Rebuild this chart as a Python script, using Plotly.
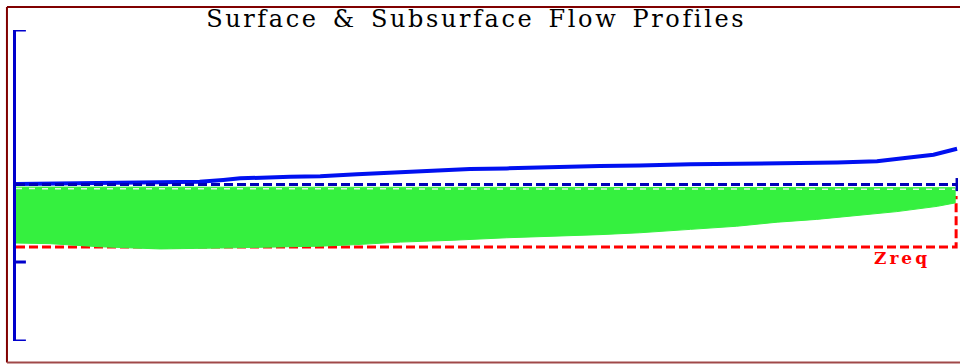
import plotly.graph_objects as go

# distance along the field (0-100) and elevation (arbitrary units, 0-100)
surface_x = [0, 15.3, 19.5, 22.0, 23.8, 29.1, 32.3, 36.2, 40.5, 42.9, 45.8, 48.2,
             52.1, 57.0, 62.0, 66.2, 71.6, 87.2, 91.4, 94.6, 97.4, 99.9]
surface_y = [50.5, 50.9, 51.2, 51.8, 52.3, 52.8, 53.0, 53.6, 54.2, 54.7, 55.0, 55.3,
             55.5, 56.0, 56.3, 56.4, 56.8, 57.4, 57.8, 58.9, 59.9, 61.8]

subsurf_x = [0, 99.9]
subsurf_y = [50.3, 50.3]
subsurf_end_y = [52.4, 48.2]

wet_top_x = [0, 99.7]
wet_top_y = [49.5, 49.3]
wet_bot_x = [0, 3.6, 8.9, 15.3, 21.7, 32.3, 36.2, 40.8, 46.4, 52.1, 57.0, 62.0,
             66.2, 71.6, 76.5, 80.8, 85.0, 89.3, 93.5, 97.8, 99.7]
wet_bot_y = [31.5, 31.3, 30.3, 29.6, 29.9, 30.5, 31.0, 31.8, 32.4, 33.2, 33.7, 34.2,
             34.8, 35.9, 36.9, 38.2, 39.1, 40.4, 41.6, 43.3, 44.4]

zreq_x = [0, 99.8, 99.8]
zreq_y = [30.2, 30.2, 46.6]

axis_ticks = [0, 25.4, 100]

fig = go.Figure()

fig.add_trace(go.Scatter(x=zreq_x, y=zreq_y, mode="lines",
                         line=dict(color="#FF0000", width=3, dash="9px,4px")))

fig.add_trace(go.Scatter(x=wet_top_x + wet_bot_x[::-1], y=wet_top_y + wet_bot_y[::-1],
                         mode="lines", fill="toself", fillcolor="#35F03F",
                         line=dict(color="#35F03F", width=1)))

fig.add_trace(go.Scatter(x=wet_top_x, y=[v - 0.5 for v in wet_top_y], mode="lines",
                         line=dict(color="#D8FFD8", width=1.5, dash="6px,7px")))

fig.add_trace(go.Scatter(x=surface_x, y=surface_y, mode="lines",
                         line=dict(color="#0010F0", width=4)))

fig.add_trace(go.Scatter(x=subsurf_x, y=subsurf_y, mode="lines",
                         line=dict(color="#0000B8", width=3, dash="9px,4px")))
fig.add_trace(go.Scatter(x=[99.9, 99.9], y=subsurf_end_y, mode="lines",
                         line=dict(color="#0000B8", width=3)))

fig.add_annotation(x=94.1, y=26.6, text="<span style='letter-spacing:3px'><b>Zreq</b></span>",
                   showarrow=False,
                   font=dict(family="DejaVu Serif", size=17, color="#FF0000"))

# y-axis tick marks (plotly hides the ones at the ends, so draw them all as shapes)
for t in axis_ticks:
    fig.add_shape(type="line", xref="paper", yref="y", x0=0, x1=0.0105, y0=t, y1=t,
                  line=dict(color="#0000CC", width=3))

# window frame
frame = dict(type="line", xref="paper", yref="paper", line=dict(color="#800000", width=2))
fig.add_shape(frame, x0=-0.0096, x1=-0.0096, y0=-0.069, y1=1.074)
fig.add_shape(frame, x0=-0.0096, x1=1.01, y0=1.074, y1=1.074)
fig.add_shape(frame, x0=-0.0096, x1=1.01, y0=-0.069, y1=-0.069,
              line=dict(color="#A04848", width=2))

fig.update_layout(
    width=960, height=364,
    margin=dict(l=16, r=2, t=30, b=23),
    paper_bgcolor="white", plot_bgcolor="white",
    showlegend=False,
    title=dict(text="<span style='letter-spacing:2.6px;word-spacing:4px'>Surface &amp; Subsurface Flow Profiles</span>",
               x=0.496, y=0.948, xanchor="center", yanchor="middle",
               font=dict(family="DejaVu Serif", size=24, color="black")),
    xaxis=dict(range=[0, 100], visible=False, fixedrange=True),
    yaxis=dict(range=[0, 100], showgrid=False, zeroline=False, showline=True,
               linecolor="#0000CC", linewidth=3, ticks="", showticklabels=False,
               fixedrange=True),
)

fig.write_html("out.html", config={"displayModeBar": False},
               post_script="document.body.style.margin='0';")
